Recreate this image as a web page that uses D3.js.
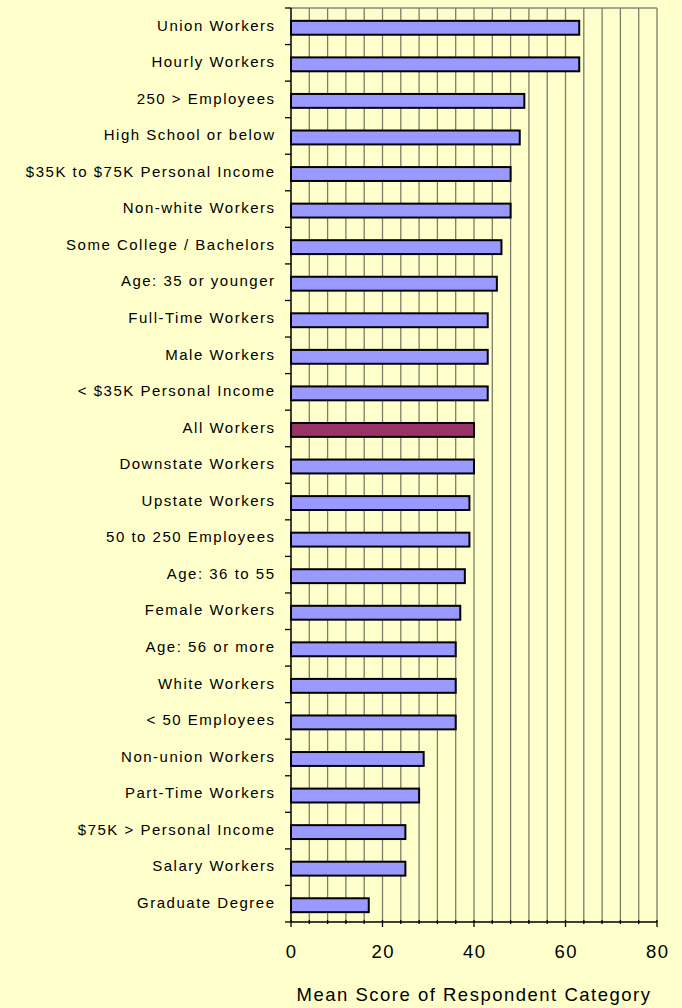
<!DOCTYPE html>
<html>
<head>
<meta charset="utf-8">
<script src="https://cdn.jsdelivr.net/npm/d3@7"></script>
<style>
  html, body { margin: 0; padding: 0; background: #FFFFCC; }
  svg { display: block; }
  text { font-family: "Liberation Sans", Arial, sans-serif; fill: #000; }
</style>
</head>
<body>
<svg id="chart" width="682" height="1008"></svg>
<script>
// Categorías (de arriba hacia abajo)
const categories = [
  'Union Workers', 'Hourly Workers', '250 > Employees', 'High School or below',
  '$35K to $75K Personal Income', 'Non-white Workers', 'Some College / Bachelors',
  'Age: 35 or younger', 'Full-Time Workers', 'Male Workers', '< $35K Personal Income',
  'All Workers', 'Downstate Workers', 'Upstate Workers', '50 to 250 Employees',
  'Age: 36 to 55', 'Female Workers', 'Age: 56 or more', 'White Workers',
  '< 50 Employees', 'Non-union Workers', 'Part-Time Workers', '$75K > Personal Income',
  'Salary Workers', 'Graduate Degree'
];
// Puntuación media de cada categoría
const scores = [63, 63, 51, 50, 48, 48, 46, 45, 43, 43, 43, 40, 40, 39, 39, 38, 37, 36, 36, 36, 29, 28, 25, 25, 17];
const highlight = 'All Workers';
const xTicks = [0, 20, 40, 60, 80];
const xTitle = 'Mean Score of Respondent Category';

const svg = d3.select('#chart');
const PLOT_LEFT = 291, PLOT_RIGHT = 657, PLOT_TOP = 8, PLOT_BOTTOM = 922;
const LABEL_SPACING = 1.5;

const x = d3.scaleLinear().domain([0, 80]).range([PLOT_LEFT, PLOT_RIGHT]);
const y = d3.scaleBand().domain(categories).range([PLOT_TOP, PLOT_BOTTOM]).paddingInner(0.62).paddingOuter(0.31);

// Líneas de cuadrícula verticales cada 4 unidades
const grid = d3.range(4, 81, 4);
svg.append('g')
  .selectAll('line')
  .data(grid)
  .enter()
  .append('line')
  .attr('x1', d => x(d)).attr('x2', d => x(d))
  .attr('y1', PLOT_TOP).attr('y2', PLOT_BOTTOM)
  .attr('stroke', '#7f7b68')
  .attr('stroke-width', 1.3);

// Borde superior
svg.append('line')
  .attr('x1', PLOT_LEFT).attr('x2', PLOT_RIGHT)
  .attr('y1', PLOT_TOP).attr('y2', PLOT_TOP)
  .attr('stroke', '#858585').attr('stroke-width', 1.3);

// Barras
svg.append('g')
  .selectAll('rect')
  .data(categories)
  .enter()
  .append('rect')
  .attr('x', x(0))
  .attr('y', d => y(d) + 1.5)
  .attr('width', (d, i) => x(scores[i]) - x(0))
  .attr('height', y.bandwidth())
  .attr('fill', d => d === highlight ? '#993366' : '#9999FF')
  .attr('stroke', '#000')
  .attr('stroke-width', 2);

// Eje Y
svg.append('line')
  .attr('x1', PLOT_LEFT).attr('x2', PLOT_LEFT)
  .attr('y1', PLOT_TOP).attr('y2', PLOT_BOTTOM)
  .attr('stroke', '#000').attr('stroke-width', 1.5);

const bounds = d3.range(categories.length + 1).map(i => PLOT_TOP + i * y.step());
svg.append('g')
  .selectAll('line')
  .data(bounds)
  .enter()
  .append('line')
  .attr('x1', PLOT_LEFT - 6).attr('x2', PLOT_LEFT)
  .attr('y1', d => d).attr('y2', d => d)
  .attr('stroke', '#000').attr('stroke-width', 1.3);

svg.append('g')
  .selectAll('text')
  .data(categories)
  .enter()
  .append('text')
  .attr('x', 274 + LABEL_SPACING)
  .attr('y', d => y.bandwidth() / 2 + y(d) - 1)
  .attr('dy', '0.35em')
  .attr('text-anchor', 'end')
  .style('font-size', '15px')
  .style('letter-spacing', LABEL_SPACING + 'px')
  .text(d => d);

// Eje X
svg.append('line')
  .attr('x1', PLOT_LEFT).attr('x2', PLOT_RIGHT)
  .attr('y1', PLOT_BOTTOM).attr('y2', PLOT_BOTTOM)
  .attr('stroke', '#000').attr('stroke-width', 1.5);

svg.append('g')
  .selectAll('line')
  .data(d3.range(0, 81, 4))
  .enter()
  .append('line')
  .attr('x1', d => x(d)).attr('x2', d => x(d))
  .attr('y1', PLOT_BOTTOM - 2)
  .attr('y2', d => d % 20 === 0 ? PLOT_BOTTOM + 5 : PLOT_BOTTOM + 2)
  .attr('stroke', '#000').attr('stroke-width', 1.3);

svg.append('g')
  .selectAll('text')
  .data(xTicks)
  .enter()
  .append('text')
  .attr('x', d => x(d) + 0.75)
  .attr('y', 952)
  .attr('dy', '0.35em')
  .attr('text-anchor', 'middle')
  .style('font-size', '18.5px')
  .style('letter-spacing', '1.5px')
  .text(d => d);

svg.append('text')
  .attr('x', 474)
  .attr('y', 995)
  .attr('dy', '0.35em')
  .attr('text-anchor', 'middle')
  .style('font-size', '18.5px')
  .style('letter-spacing', '1.5px')
  .text(xTitle);
</script>
</body>
</html>
